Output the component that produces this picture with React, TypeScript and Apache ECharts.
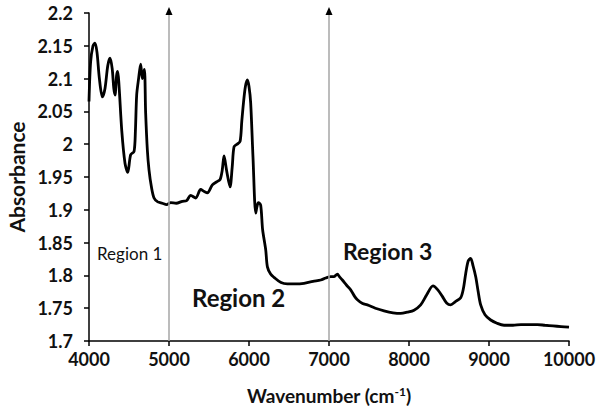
import React, { useEffect, useRef } from "react";
import * as echarts from "echarts";

const wavenumbers = [
  4000, 4020, 4050, 4075, 4100, 4130, 4167, 4200, 4235, 4263, 4290, 4310, 4325, 4345, 4359, 4375, 4410, 4450, 4484,
  4521, 4563, 4580, 4596, 4620, 4646, 4667, 4692, 4708, 4730, 4750, 4780, 4813, 4860, 4917, 4970, 5021, 5090, 5167,
  5220, 5271, 5334, 5396, 5440, 5480, 5542, 5600, 5638, 5665, 5688, 5720, 5763, 5790, 5813, 5850, 5888, 5910, 5930,
  5955, 5980, 6000, 6021, 6050, 6084, 6100, 6117, 6146, 6170, 6209, 6230, 6270, 6313, 6400, 6480, 6580, 6688, 6800,
  6896, 6960, 7021, 7060, 7105, 7130, 7167, 7220, 7271, 7320, 7355, 7420, 7480, 7580, 7688, 7800, 7896, 7980, 8063,
  8146, 8220, 8300, 8360, 8417, 8470, 8521, 8580, 8646, 8680, 8709, 8740, 8771, 8800, 8834, 8865, 8896, 8950, 9021,
  9100, 9188, 9300, 9400, 9500, 9605, 9700, 9800, 9900, 10000,
];
const absorbance = [
  2.065, 2.125, 2.15, 2.154, 2.14, 2.1, 2.072, 2.085, 2.12, 2.131, 2.115, 2.085, 2.075, 2.105, 2.111, 2.09, 2.02, 1.971, 1.957,
  1.984, 1.989, 2.02, 2.075, 2.1, 2.122, 2.1, 2.114, 2.048, 1.99, 1.961, 1.935, 1.918, 1.912, 1.91, 1.908, 1.911, 1.91, 1.913,
  1.914, 1.922, 1.918, 1.931, 1.928, 1.926, 1.938, 1.943, 1.946, 1.96, 1.982, 1.96, 1.935, 1.965, 1.996, 2.0, 2.004, 2.035, 2.062,
  2.088, 2.098, 2.088, 2.063, 1.98, 1.895, 1.905, 1.911, 1.907, 1.87, 1.839, 1.813, 1.802, 1.797, 1.789, 1.787, 1.787, 1.788, 1.791,
  1.793, 1.796, 1.798, 1.798, 1.802, 1.798, 1.793, 1.785, 1.778, 1.768, 1.763, 1.757, 1.755, 1.75, 1.746, 1.743, 1.742, 1.744, 1.747,
  1.755, 1.77, 1.784, 1.778, 1.768, 1.758, 1.755, 1.76, 1.766, 1.78, 1.803, 1.822, 1.826, 1.815, 1.798, 1.775, 1.755, 1.74, 1.732,
  1.727, 1.724, 1.724, 1.725, 1.725, 1.725, 1.724, 1.723, 1.722, 1.721,
];
const regionBoundaries = [5000, 7000];
const regionLabels = ["Region 1", "Region 2", "Region 3"];

const FONT = "Lato";

export default function App() {
  const ref = useRef<HTMLDivElement>(null);
  useEffect(() => {
    if (!ref.current) return;
    const chart = echarts.init(ref.current, null, { renderer: "svg" });
    const data = wavenumbers.map((w, i) => [w, absorbance[i]]);
    chart.setOption({
      animation: false,
      backgroundColor: "#fff",
      grid: { left: 89, right: 31, top: 13, bottom: 72, containLabel: false, outerBoundsMode: "none" },
      xAxis: {
        type: "value",
        min: 4000,
        max: 10000,
        interval: 1000,
        name: "Wavenumber (cm{sup|-1})",
        nameLocation: "middle",
        nameGap: 44,
        nameTextStyle: {
          fontFamily: FONT,
          fontWeight: "bold",
          fontSize: 19,
          color: "#111",
          rich: {
            sup: { fontFamily: FONT, fontWeight: "bold", fontSize: 12, color: "#111", verticalAlign: "top", padding: [0, 0, 8, 0] },
          },
        },
        axisLine: { lineStyle: { color: "#000", width: 1.5 } },
        axisTick: { show: true, length: 5, lineStyle: { color: "#000", width: 1.5 } },
        axisLabel: {
          fontFamily: FONT,
          fontWeight: "bold",
          fontSize: 18,
          color: "#111",
          margin: 9,
          formatter: (v: number) => String(v),
        },
        splitLine: { show: false },
      },
      yAxis: {
        type: "value",
        min: 1.7,
        max: 2.2,
        interval: 0.05,
        name: "Absorbance",
        nameLocation: "middle",
        nameGap: 62,
        nameTextStyle: { fontFamily: FONT, fontWeight: "bold", fontSize: 21, color: "#111" },
        axisLine: { show: true, lineStyle: { color: "#000", width: 1.5 } },
        axisTick: { show: true, length: 5, lineStyle: { color: "#000", width: 1.5 } },
        axisLabel: {
          fontFamily: FONT,
          fontWeight: "bold",
          fontSize: 18,
          color: "#111",
          margin: 16,
          formatter: (v: number) => String(parseFloat(v.toFixed(2))),
        },
        splitLine: { show: false },
      },
      series: [
        {
          type: "line",
          data,
          showSymbol: false,
          smooth: 0.3,
          lineStyle: { color: "#000", width: 2.8 },
          markLine: {
            silent: true,
            symbol: ["none", "none"],
            label: { show: false },
            lineStyle: { color: "#a6a6a6", width: 1.5, type: "solid" },
            data: regionBoundaries.map((b) => [{ coord: [b, 1.7] }, { coord: [b, 2.2] }]),
          },
          markPoint: {
            silent: true,
            symbol: "triangle",
            symbolSize: [7, 8],
            symbolOffset: [0, -2],
            itemStyle: { color: "#000" },
            label: { show: false },
            data: regionBoundaries.map((b) => ({ coord: [b, 2.2] })),
          },
        },
      ],
      graphic: [
        { type: "text", left: 97, top: 245, style: { text: regionLabels[0], fontFamily: FONT, fontSize: 17, fill: "#111" } },
        { type: "text", left: 192, top: 285, style: { text: regionLabels[1], fontFamily: FONT, fontWeight: "bold", fontSize: 24, fill: "#111" } },
        { type: "text", left: 343, top: 239, style: { text: regionLabels[2], fontFamily: FONT, fontWeight: "bold", fontSize: 23, fill: "#111" } },
      ],
    });
    return () => chart.dispose();
  }, []);
  return <div ref={ref} style={{ position: "fixed", left: 0, top: 0, width: 600, height: 413 }} />;
}
